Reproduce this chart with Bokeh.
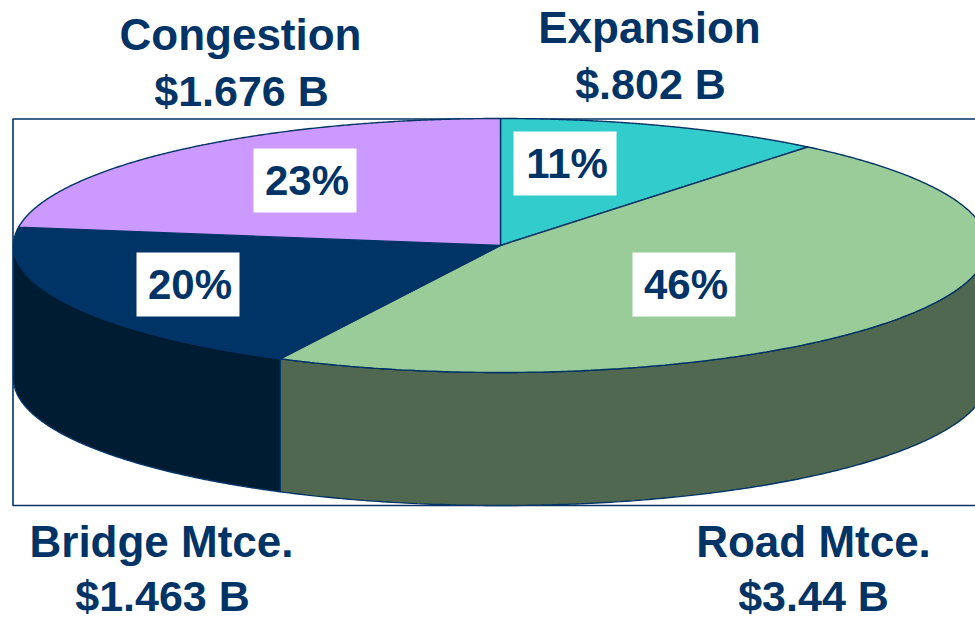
import numpy as np
from bokeh.core.properties import value
from bokeh.embed import file_html
from bokeh.models import Range1d
from bokeh.plotting import figure
from bokeh.resources import INLINE

categories = ["Expansion", "Road Mtce.", "Bridge Mtce.", "Congestion"]
amounts = [0.802, 3.44, 1.463, 1.676]
amount_labels = ["$.802 B", "$3.44 B", "$1.463 B", "$1.676 B"]
percent_labels = ["11%", "46%", "20%", "23%"]
top_colors = ["#33CCCC", "#99CC99", "#003366", "#CC99FF"]
side_colors = ["#1F7A7A", "#506850", "#001C33", "#664D80"]

NAVY = "#003366"
CX, CY, RX, RY, DEPTH = 500.0, 245.0, 487.0, 127.0, 133.0
FONT = value("Liberation Sans")

# category label positions: centre x, vertical middle of the name and of the amount
label_x = [649, 813, 161, 240]
amount_x = [650, 813, 162, 241]
name_y = [27, 541, 541, 34]
amount_y = [83, 595, 595, 90]
# percent boxes: left, right, top, bottom
box_l = [513, 632, 136, 253]
box_r = [616, 735, 239, 356]
box_t = [131, 252, 252, 148]
box_b = [195, 316, 316, 212]

p = figure(width=975, height=618, output_backend="svg", toolbar_location=None,
           x_range=Range1d(0, 975), y_range=Range1d(618, 0),
           min_border=0, outline_line_color=None)
p.axis.visible = False
p.grid.visible = False
p.background_fill_color = "white"
p.border_fill_color = "white"

# plot-area frame
p.quad(left=[12.5], right=[1100], top=[118.5], bottom=[505], fill_color="white",
       line_color=NAVY, line_width=1.6)

frac = np.array(amounts) / sum(amounts)
edges = np.concatenate([[0], np.cumsum(frac)]) * 2 * np.pi


def ex(t):
    return CX + RX * np.sin(t)


def ey(t):
    return CY - RY * np.cos(t)


# extruded wall: only the front half (90 to 270 degrees clockwise from the top)
for i in range(len(amounts)):
    a, b = max(edges[i], np.pi / 2), min(edges[i + 1], 3 * np.pi / 2)
    if b <= a:
        continue
    t = np.linspace(a, b, 200)
    xs = np.concatenate([ex(t), ex(t[::-1])])
    ys = np.concatenate([ey(t), ey(t[::-1]) + DEPTH])
    p.patch(xs, ys, fill_color=side_colors[i], line_color=NAVY, line_width=1.4)

# top face
for i in range(len(amounts)):
    t = np.linspace(edges[i], edges[i + 1], 300)
    xs = np.concatenate([[CX], ex(t)])
    ys = np.concatenate([[CY], ey(t)])
    p.patch(xs, ys, fill_color=top_colors[i], line_color=NAVY, line_width=1.4)

# percent labels
p.quad(left=box_l, right=box_r, top=box_t, bottom=box_b, fill_color="white", line_color=None)
p.text(x=[(l + r) / 2 + 2 for l, r in zip(box_l, box_r)],
       y=[(t + b) / 2 for t, b in zip(box_t, box_b)],
       text=percent_labels, text_font=FONT, text_font_style="bold", text_font_size="42px",
       text_color=NAVY, text_align="center", text_baseline="middle")

# category labels
p.text(x=label_x, y=name_y, text=categories, text_font=FONT, text_font_style="bold",
       text_font_size="44px", text_color=NAVY, text_align="center", text_baseline="middle")
p.text(x=amount_x, y=amount_y, text=amount_labels, text_font=FONT, text_font_style="bold",
       text_font_size="43px", text_color=NAVY, text_align="center", text_baseline="middle")

open("out.html", "w").write(file_html(p, INLINE))
